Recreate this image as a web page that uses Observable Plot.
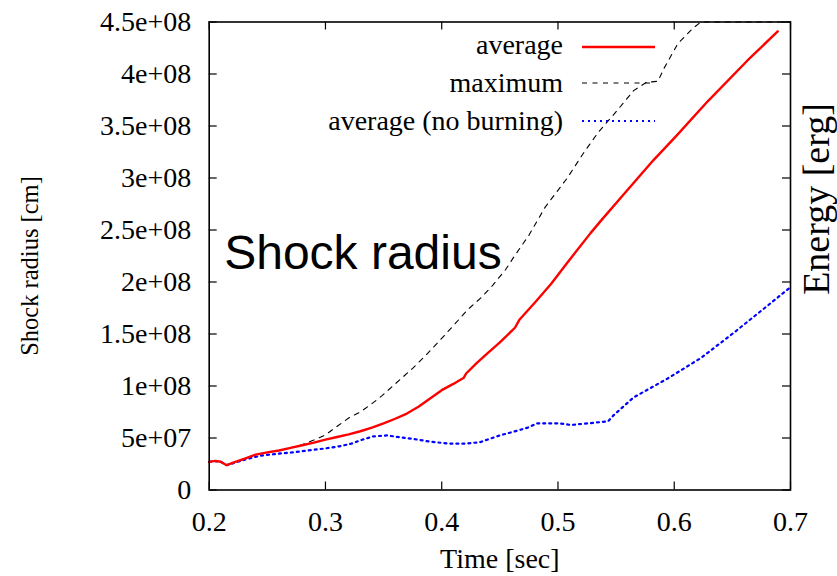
<!DOCTYPE html>
<html><head><meta charset="utf-8">
<script src="https://cdn.jsdelivr.net/npm/d3@7"></script>
<script src="https://cdn.jsdelivr.net/npm/@observablehq/plot@0.6"></script>
<style>body{margin:0;background:#fff}#chart{width:837px;height:576px}</style>
</head><body><div id="chart"></div>
<script>
// ---- data ----
const avgT = [0.200,0.205,0.210,0.215,0.220,0.230,0.240,0.250,0.260,0.270,0.280,0.290,0.300,0.310,0.320,0.330,0.340,0.350,0.360,0.370,0.380,0.390,0.400,0.410,0.419,0.421,0.430,0.440,0.450,0.463,0.467,0.480,0.494,0.509,0.528,0.537,0.554,0.582,0.603,0.629,0.663,0.689];
const avgR = [2.70e7,2.80e7,2.72e7,2.38e7,2.60e7,3.00e7,3.40e7,3.62e7,3.80e7,4.05e7,4.30e7,4.55e7,4.85e7,5.10e7,5.35e7,5.65e7,6.00e7,6.40e7,6.85e7,7.35e7,8.00e7,8.80e7,9.60e7,1.02e8,1.08e8,1.12e8,1.22e8,1.32e8,1.42e8,1.56e8,1.64e8,1.80e8,1.98e8,2.20e8,2.47e8,2.59e8,2.81e8,3.17e8,3.42e8,3.74e8,4.13e8,4.41e8];

const maxT = [0.200,0.205,0.210,0.215,0.220,0.230,0.240,0.250,0.260,0.270,0.280,0.290,0.300,0.311,0.321,0.330,0.340,0.349,0.360,0.375,0.385,0.396,0.410,0.422,0.434,0.444,0.455,0.462,0.475,0.489,0.508,0.522,0.534,0.551,0.565,0.576,0.586,0.591,0.603,0.616,0.623,0.650,0.680,0.700];
const maxR = [2.70e7,2.80e7,2.72e7,2.38e7,2.60e7,3.00e7,3.40e7,3.62e7,3.80e7,4.05e7,4.35e7,4.80e7,5.30e7,6.20e7,7.00e7,7.50e7,8.30e7,9.10e7,1.02e8,1.17e8,1.28e8,1.41e8,1.58e8,1.73e8,1.85e8,1.97e8,2.12e8,2.24e8,2.45e8,2.72e8,3.00e8,3.24e8,3.43e8,3.65e8,3.84e8,3.92e8,3.93e8,4.05e8,4.29e8,4.44e8,4.50e8,4.50e8,4.50e8,4.50e8];

const nbT = [0.200,0.205,0.210,0.215,0.220,0.230,0.244,0.260,0.270,0.285,0.300,0.312,0.322,0.332,0.341,0.353,0.365,0.376,0.390,0.407,0.420,0.433,0.450,0.465,0.474,0.482,0.502,0.511,0.525,0.543,0.548,0.560,0.565,0.594,0.623,0.651,0.680,0.700];
const nbR = [2.70e7,2.78e7,2.70e7,2.40e7,2.55e7,2.90e7,3.30e7,3.50e7,3.60e7,3.80e7,4.00e7,4.20e7,4.45e7,4.85e7,5.15e7,5.25e7,5.05e7,4.90e7,4.65e7,4.45e7,4.45e7,4.60e7,5.25e7,5.70e7,6.00e7,6.40e7,6.40e7,6.25e7,6.40e7,6.60e7,7.20e7,8.40e7,8.90e7,1.07e8,1.27e8,1.51e8,1.77e8,1.95e8];

const xTicks = [0.2,0.3,0.4,0.5,0.6,0.7];
const xTickLabels = ["0.2","0.3","0.4","0.5","0.6","0.7"];
const yTicks = [0,5e7,1e8,1.5e8,2e8,2.5e8,3e8,3.5e8,4e8,4.5e8];
const yTickLabels = ["0","5e+07","1e+08","1.5e+08","2e+08","2.5e+08","3e+08","3.5e+08","4e+08","4.5e+08"];
const seriesNames = ["average","maximum","average (no burning)"];

// ---- layout ----
const W = 837, H = 576, mL = 208.7, mR = 47, mT = 21.5, mB = 86.5;
const plotW = W - mL - mR, plotH = H - mT - mB;
const serif = "Liberation Serif, Times New Roman, serif";
const FS = 28;

const rows = (T, R) => T.map((t, i) => ({t, r: R[i]}));
const xLab = new Map(xTicks.map((v, i) => [v, xTickLabels[i]]));
const yLab = new Map(yTicks.map((v, i) => [v, yTickLabels[i]]));
const styles = [
  {stroke: "#ff0000", strokeWidth: 2.4},
  {stroke: "#000000", strokeWidth: 1.1, strokeDasharray: "5,5.5"},
  {stroke: "#0000ff", strokeWidth: 2.2, strokeDasharray: "2,4"}
];

const svg = Plot.plot({
  width: W, height: H,
  marginLeft: mL, marginRight: mR, marginTop: mT, marginBottom: mB,
  style: {fontFamily: serif, fontSize: FS + "px", background: "#fff", color: "#000", overflow: "visible"},
  x: {domain: [0.2, 0.7]},
  y: {domain: [0, 4.5e8]},
  marks: [
    Plot.axisX(xTicks, {tickSize: 0, tickPadding: 21, tickFormat: d => xLab.get(d), label: null, fontSize: FS}),
    Plot.axisY(yTicks, {tickSize: 0, tickPadding: 18, tickFormat: d => yLab.get(d), label: null, fontSize: FS}),
    // inward ticks on all four sides
    Plot.ruleY(yTicks, {y: d => d, insetRight: plotW - 8, stroke: "#000", strokeWidth: 1.2}),
    Plot.ruleY(yTicks, {y: d => d, insetLeft: plotW - 8, stroke: "#000", strokeWidth: 1.2}),
    Plot.ruleX(xTicks, {x: d => d, insetBottom: plotH - 8, stroke: "#000", strokeWidth: 1.2}),
    Plot.ruleX(xTicks, {x: d => d, insetTop: plotH - 8, stroke: "#000", strokeWidth: 1.2}),
    Plot.line(rows(maxT, maxR), {x: "t", y: "r", ...styles[1]}),
    Plot.line(rows(nbT, nbR), {x: "t", y: "r", ...styles[2]}),
    Plot.line(rows(avgT, avgR), {x: "t", y: "r", ...styles[0]}),
    Plot.frame({stroke: "#000", strokeWidth: 1.6}),
    Plot.text(["Shock radius"], {frameAnchor: "top-left", textAnchor: "start", lineAnchor: "bottom", dx: 15, dy: 246.5, fontFamily: "Liberation Sans, Arial, sans-serif", fontSize: 48, fill: "#000"}),
    Plot.text(["Time [sec]"], {frameAnchor: "bottom", textAnchor: "middle", lineAnchor: "bottom", dy: 77.5, fontSize: FS, fill: "#000"}),
    Plot.text(["Shock radius [cm]"], {frameAnchor: "left", textAnchor: "middle", rotate: -90, lineAnchor: "middle", dx: -178.7, dy: 10, fontSize: 24.5, fill: "#000"}),
    Plot.text(["Energy [erg]"], {frameAnchor: "right", textAnchor: "middle", rotate: -90, lineAnchor: "middle", dx: 26, dy: -57, fontSize: 38, fill: "#000"})
  ]
});

// legend (inside plot, top-right, gnuplot style)
const g = d3.select(svg).append("g").attr("font-family", serif).attr("font-size", FS);
const legendRows = [54, 92, 130];
const lineMid = [47, 83, 121];
seriesNames.forEach((name, i) => {
  g.append("text").attr("x", 563).attr("y", legendRows[i]).attr("text-anchor", "end").attr("fill", "#000").text(name);
  const l = g.append("line").attr("x1", 582).attr("x2", 655).attr("y1", lineMid[i]).attr("y2", lineMid[i])
    .attr("stroke", styles[i].stroke).attr("stroke-width", styles[i].strokeWidth);
  if (styles[i].strokeDasharray) l.attr("stroke-dasharray", styles[i].strokeDasharray);
});

document.getElementById("chart").appendChild(svg);
</script>
</body></html>
